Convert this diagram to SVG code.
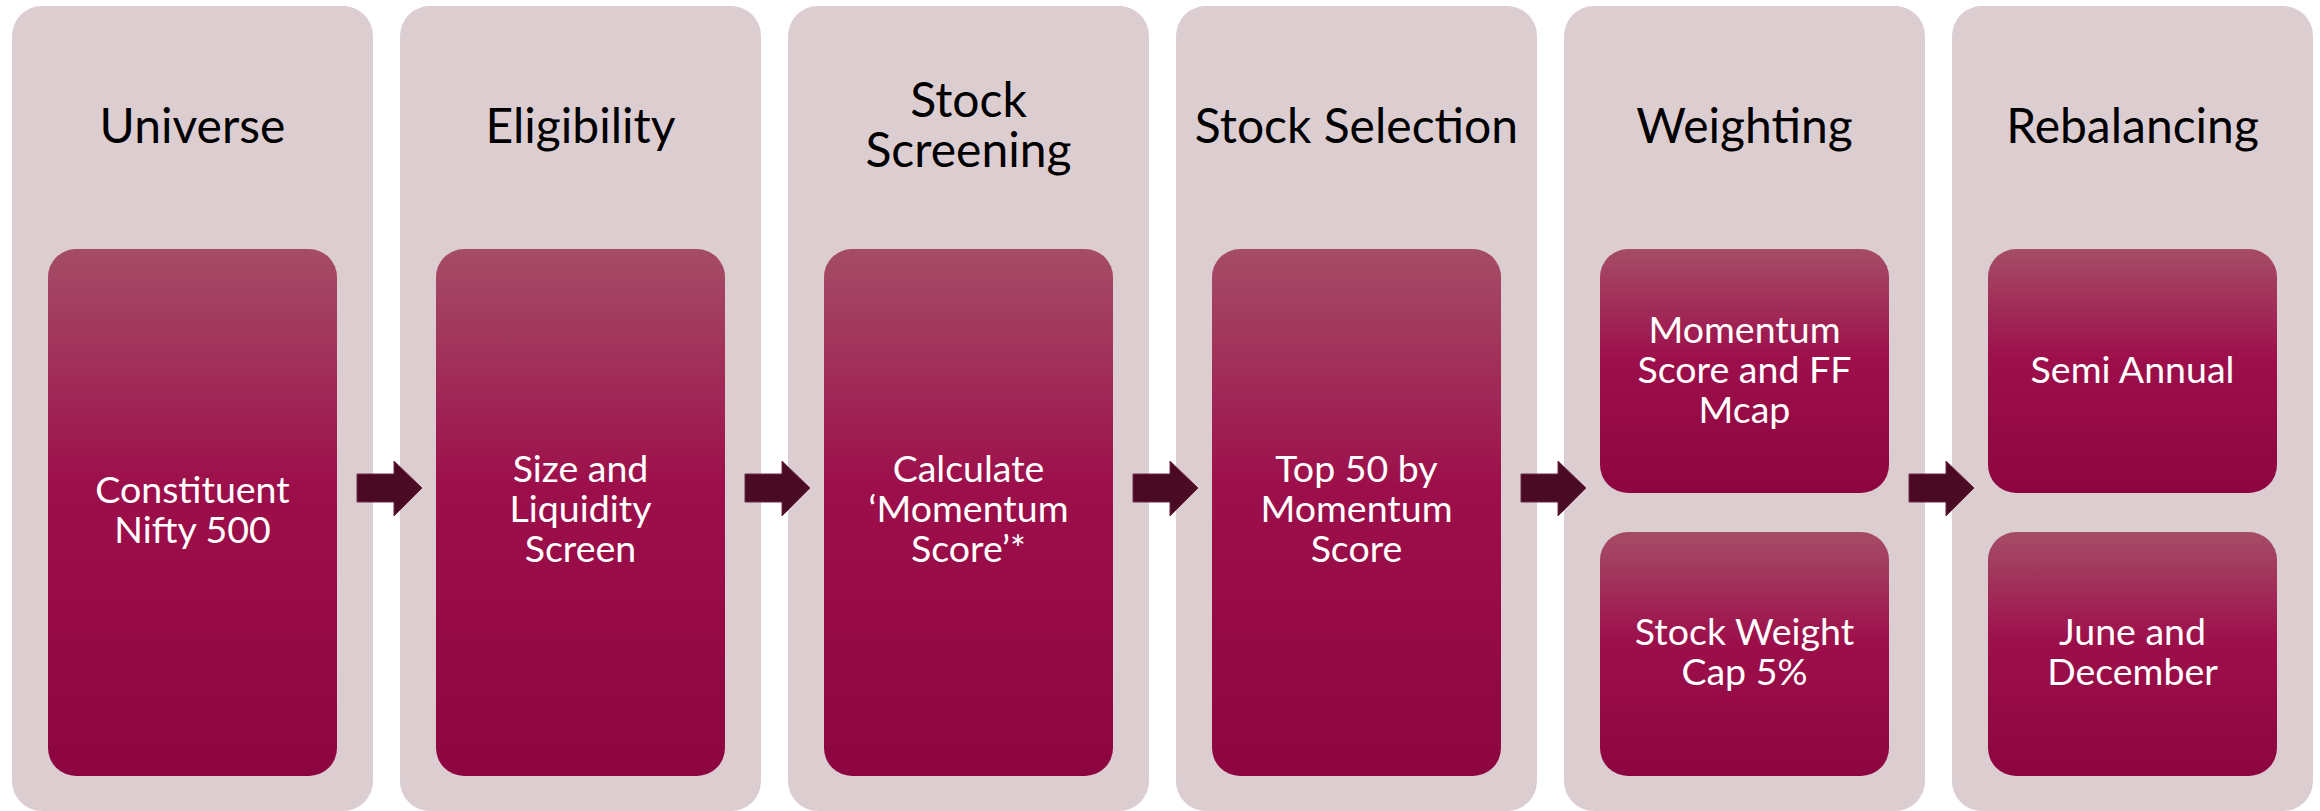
<svg xmlns="http://www.w3.org/2000/svg" width="2320" height="811" viewBox="0 0 2320 811">
<defs>
<linearGradient id="g" x1="0" y1="0" x2="0" y2="1">
<stop offset="0" stop-color="#a54c67"/>
<stop offset="0.12" stop-color="#a33d5f"/>
<stop offset="0.45" stop-color="#9d0f4b"/>
<stop offset="1" stop-color="#8d0540"/>
</linearGradient>
<path id="arr" d="M357,474 H394 V461 L422,488 L394,516 V502 H357 Z"/>
</defs>
<style>
.col{fill:#dccdd1}
.box{fill:url(#g)}
.t{font-family:Lato,"Liberation Sans",sans-serif;font-size:48px;fill:#000;text-anchor:middle}
.b{font-family:Lato,"Liberation Sans",sans-serif;font-size:37.5px;fill:#fff;text-anchor:middle}
.a{fill:#4a0a24;stroke:#6b2a44;stroke-width:1}
</style>
<rect width="2320" height="811" fill="#fff"/>
<g id="universe">
<rect class="col" x="12" y="6" width="361" height="805" rx="30"/>
<text class="t" x="192.5" y="143">Universe</text>
<rect class="box" x="48" y="249" width="289" height="527" rx="28"/>
<text class="b" x="192.5" y="503">Constituent</text>
<text class="b" x="192.5" y="543">Nifty 500</text>
</g>
<g id="eligibility">
<rect class="col" x="400" y="6" width="361" height="805" rx="30"/>
<text class="t" x="580.5" y="143">Eligibility</text>
<rect class="box" x="436" y="249" width="289" height="527" rx="28"/>
<text class="b" x="580.5" y="482">Size and</text>
<text class="b" x="580.5" y="522">Liquidity</text>
<text class="b" x="580.5" y="562">Screen</text>
</g>
<g id="screening">
<rect class="col" x="788" y="6" width="361" height="805" rx="30"/>
<text class="t" x="968.5" y="117">Stock</text>
<text class="t" x="968.5" y="167">Screening</text>
<rect class="box" x="824" y="249" width="289" height="527" rx="28"/>
<text class="b" x="968.5" y="482">Calculate</text>
<text class="b" x="968.5" y="522">‘Momentum</text>
<text class="b" x="968.5" y="562">Score’*</text>
</g>
<g id="selection">
<rect class="col" x="1176" y="6" width="361" height="805" rx="30"/>
<text class="t" x="1356.5" y="143">Stock Selection</text>
<rect class="box" x="1212" y="249" width="289" height="527" rx="28"/>
<text class="b" x="1356.5" y="482">Top 50 by</text>
<text class="b" x="1356.5" y="522">Momentum</text>
<text class="b" x="1356.5" y="562">Score</text>
</g>
<g id="weighting">
<rect class="col" x="1564" y="6" width="361" height="805" rx="30"/>
<text class="t" x="1744.5" y="143">Weighting</text>
<rect class="box" x="1600" y="249" width="289" height="244" rx="28"/>
<text class="b" x="1744.5" y="343">Momentum</text>
<text class="b" x="1744.5" y="383">Score and FF</text>
<text class="b" x="1744.5" y="423">Mcap</text>
<rect class="box" x="1600" y="532" width="289" height="244" rx="28"/>
<text class="b" x="1744.5" y="645">Stock Weight</text>
<text class="b" x="1744.5" y="685">Cap 5%</text>
</g>
<g id="rebalancing">
<rect class="col" x="1952" y="6" width="361" height="805" rx="30"/>
<text class="t" x="2132.5" y="143">Rebalancing</text>
<rect class="box" x="1988" y="249" width="289" height="244" rx="28"/>
<text class="b" x="2132.5" y="383">Semi Annual</text>
<rect class="box" x="1988" y="532" width="289" height="244" rx="28"/>
<text class="b" x="2132.5" y="645">June and</text>
<text class="b" x="2132.5" y="685">December</text>
</g>
<g id="connectors">
<use href="#arr" class="a"/>
<use href="#arr" class="a" x="388"/>
<use href="#arr" class="a" x="776"/>
<use href="#arr" class="a" x="1164"/>
<use href="#arr" class="a" x="1552"/>
</g>
</svg>
